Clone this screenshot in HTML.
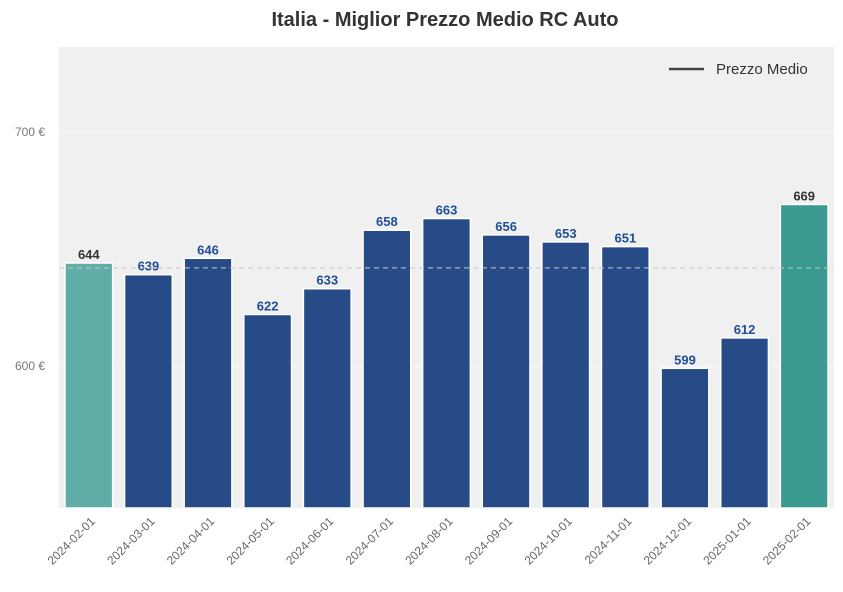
<!DOCTYPE html>
<html><head><meta charset="utf-8"><style>
body{margin:0;background:#fff;}
svg{display:block;font-family:"Liberation Sans",Arial,sans-serif;}
</style></head><body>
<svg id="chart" width="843" height="592">
<text x="445" y="26" text-anchor="middle" font-size="20" font-weight="bold" fill="#333">Italia - Miglior Prezzo Medio RC Auto</text>
<rect x="59" y="47" width="775" height="461" fill="#f0f0f0"/>
<g id="grid"></g><g id="bars"></g><g id="labels"></g><g id="xt"></g>
<g>
<line x1="669" y1="69" x2="704" y2="69" stroke="#444" stroke-width="2.5"/>
<text x="716" y="74" font-size="15" fill="#333">Prezzo Medio</text>
</g>
</svg>
<script>
const categories=["2024-02-01","2024-03-01","2024-04-01","2024-05-01","2024-06-01","2024-07-01","2024-08-01","2024-09-01","2024-10-01","2024-11-01","2024-12-01","2025-01-01","2025-02-01"];
const values=[644,639,646,622,633,658,663,656,653,651,599,612,669];
const yTicks=[600,700];
const yMin=539.3,yMax=736.3,pTop=47,pBot=508,pL=59,pR=834;
const NS="http://www.w3.org/2000/svg";
function y(v){return pBot-(v-yMin)/(yMax-yMin)*(pBot-pTop);}
const slot=(pR-pL)/categories.length;
function xc(i){return pL+slot*(i+0.5);}
function mk(t,a,p){const e=document.createElementNS(NS,t);for(const k in a)e.setAttribute(k,a[k]);p.appendChild(e);return e;}
const grid=document.getElementById('grid'),bars=document.getElementById('bars'),labels=document.getElementById('labels'),xt=document.getElementById('xt');
yTicks.forEach(v=>{
 const l=mk('line',{x1:pL,x2:pR,y1:y(v),y2:y(v),stroke:'#fafafa','stroke-width':1},grid);
 
 
 const t=mk('text',{x:pL-14,y:y(v)+4,'text-anchor':'end','font-size':12,fill:'#777'},grid);
 t.textContent=v+' €';
 
 
});
const mean=values.reduce((a,b)=>a+b,0)/values.length;
const last=values.length-1;
values.forEach((v,i)=>{
 const w=slot*0.8;
 const fill=i===0?'#5fada6':(i===last?'#3a9a8f':'#274b86');
 const r=mk('rect',{x:xc(i)-w/2,y:y(v),width:w,height:pBot-y(v),fill:fill,stroke:'#fff','stroke-width':1.5},bars);
 
 
 const t=mk('text',{x:xc(i),y:y(v)-4,'text-anchor':'middle','font-size':13,'font-weight':'bold',fill:(i===0||i===last)?'#333':'#1f4f96'},labels);
 t.textContent=v;
 
 
 const c=mk('text',{'text-anchor':'end','font-size':12,fill:'#666',transform:`translate(${xc(i)+7},${pBot+14}) rotate(-45)`},xt);
 c.textContent=categories[i];
 
 
});
const ml=mk('line',{x1:pL,x2:pR,y1:y(mean),y2:y(mean),stroke:'#c8c8c8','stroke-width':1,'stroke-dasharray':'5,4'},labels);


</script>
</body></html>
